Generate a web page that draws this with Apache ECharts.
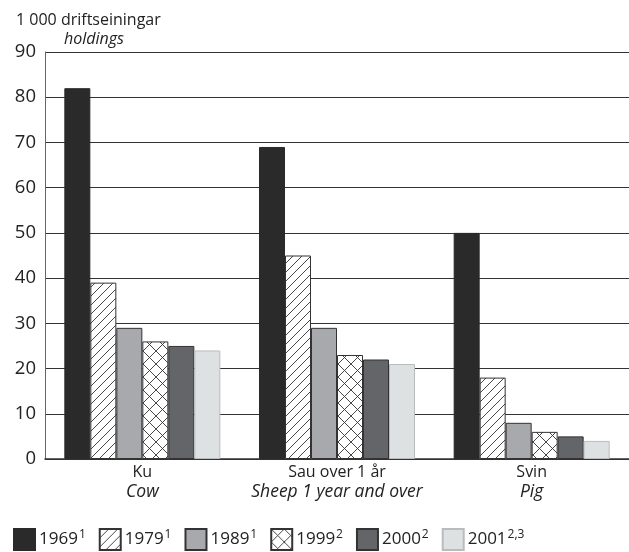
<!DOCTYPE html>
<html>
<head>
<meta charset="utf-8">
<script src="https://cdn.jsdelivr.net/npm/echarts@6/dist/echarts.min.js"></script>
<style>html,body{margin:0;padding:0;background:#fff;}#c{width:629px;height:552px;}</style>
</head>
<body>
<div id="c"></div>
<script>
const categoriesNo = ['Ku', 'Sau over 1 år', 'Svin'];
const categoriesEn = ['Cow', 'Sheep 1 year and over', 'Pig'];
const years = ['1969', '1979', '1989', '1999', '2000', '2001'];
const yearNotes = ['1', '1', '1', '2', '2', '2,3'];
const v1969 = [82, 69, 50];
const v1979 = [39, 45, 18];
const v1989 = [29, 29, 8];
const v1999 = [26, 23, 6];
const v2000 = [25, 22, 5];
const v2001 = [24, 21, 4];
const yTicks = [0, 10, 20, 30, 40, 50, 60, 70, 80, 90];

const FONT = '"Open Sans", "Noto Sans", sans-serif';

function hatchPattern() {
  const s = 9, c = document.createElement('canvas');
  c.width = s; c.height = s;
  const g = c.getContext('2d');
  g.fillStyle = '#fff'; g.fillRect(0, 0, s, s);
  g.strokeStyle = '#333'; g.lineWidth = 0.9;
  g.beginPath();
  g.moveTo(-1, s + 1); g.lineTo(s + 1, -1);
  g.moveTo(-1, 1); g.lineTo(1, -1);
  g.moveTo(s - 1, s + 1); g.lineTo(s + 1, s - 1);
  g.stroke();
  return c;
}
function crossPattern() {
  const s = 13, c = document.createElement('canvas');
  c.width = s; c.height = s;
  const g = c.getContext('2d');
  g.fillStyle = '#fff'; g.fillRect(0, 0, s, s);
  g.strokeStyle = '#333'; g.lineWidth = 0.9;
  g.beginPath();
  g.moveTo(0, 0); g.lineTo(s, s);
  g.moveTo(0, s); g.lineTo(s, 0);
  g.stroke();
  return c;
}

const fills = [
  '#2b2a2b',
  { image: hatchPattern(), repeat: 'repeat' },
  '#a7a9ac',
  { image: crossPattern(), repeat: 'repeat' },
  '#646569',
  '#dde1e1'
];
const borders = ['#2b2a2b', '#333', '#333', '#333', '#333', '#b8bcbc'];
const valuesList = [v1969, v1979, v1989, v1999, v2000, v2001];

const series = years.map((y, i) => ({
  name: y,
  type: 'bar',
  data: valuesList[i],
  barWidth: 26,
  barGap: '0%',
  itemStyle: { color: fills[i], borderColor: borders[i], borderWidth: 1 },
  emphasis: { disabled: true }
}));

const chart = echarts.init(document.getElementById('c'), null, { renderer: 'canvas' });
chart.setOption({
  animation: false,
  backgroundColor: '#fff',
  title: [
    { text: '1 000 driftseiningar', left: 11, top: 7, textStyle: { fontFamily: FONT, fontSize: 16, fontWeight: 'normal', color: '#222' } },
    { text: 'holdings', left: 59, top: 26, textStyle: { fontFamily: FONT, fontSize: 16, fontStyle: 'italic', fontWeight: 'normal', color: '#222' } }
  ],
  grid: { left: 45, right: 0, top: 52, bottom: 93, containLabel: false },
  xAxis: {
    type: 'category',
    data: categoriesNo.map((c, i) => c + '|' + categoriesEn[i]),
    axisTick: { show: false },
    axisLine: { lineStyle: { color: '#333', width: 1.5 } },
    axisLabel: {
      margin: 3,
      formatter: v => { const p = v.split('|'); return '{a|' + p[0] + '}\n{b|' + p[1] + '}'; },
      rich: {
        a: { fontFamily: FONT, fontSize: 16, color: '#222', lineHeight: 20, align: 'center' },
        b: { fontFamily: FONT, fontSize: 17.5, fontStyle: 'italic', color: '#222', lineHeight: 20, align: 'center' }
      }
    }
  },
  yAxis: {
    type: 'value',
    min: yTicks[0],
    max: yTicks[yTicks.length - 1],
    interval: yTicks[1] - yTicks[0],
    axisLine: { show: true, lineStyle: { color: '#666', width: 1 } },
    axisTick: { show: false },
    splitLine: { lineStyle: { color: '#333', width: 1.2 } },
    axisLabel: { margin: 9, fontFamily: FONT, fontSize: 18.5, color: '#222' }
  },
  legend: {
    top: 528,
    left: 13,
    padding: 0,
    itemWidth: 21,
    itemHeight: 21,
    itemGap: 13,
    icon: 'rect',
    data: years,
    formatter: name => {
      const i = years.indexOf(name);
      return '{a|' + name + '}{s|' + yearNotes[i] + '}';
    },
    textStyle: {
      padding: [0, 0, 0, -1],
      rich: {
        a: { fontFamily: FONT, fontSize: 17, color: '#222', lineHeight: 21 },
        s: { fontFamily: FONT, fontSize: 12, color: '#222', lineHeight: 15, verticalAlign: 'top', padding: [0, 0, 0, 1] }
      }
    }
  },
  series: series
});
</script>
</body>
</html>
